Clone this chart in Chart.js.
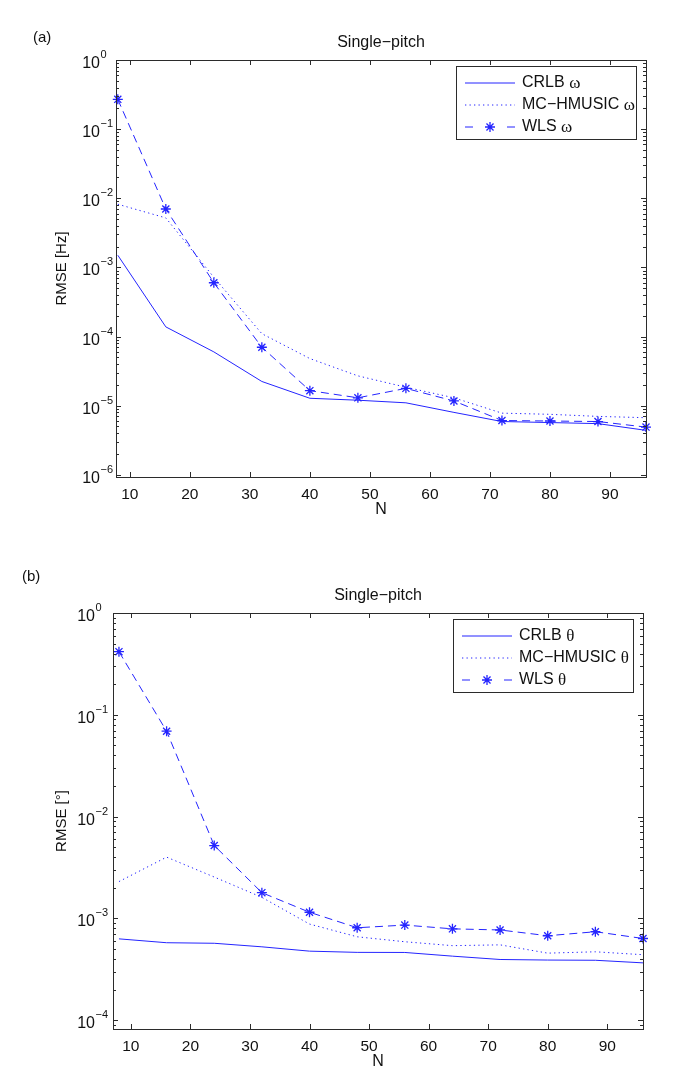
<!DOCTYPE html>
<html><head><meta charset="utf-8">
<script src="https://cdn.jsdelivr.net/npm/chart.js@4.4.1/dist/chart.umd.min.js"></script>
<style>
html,body{margin:0;padding:0;background:#fff;}
#wrap{position:relative;width:685px;height:1089px;}
canvas{position:absolute;left:0;}
</style></head><body>
<div id="wrap">
<canvas id="ca" width="685" height="545" style="top:0"></canvas>
<canvas id="cb" width="685" height="544" style="top:545px"></canvas>
</div>
<script>
// ---------- data ----------
const N = [8,16,24,32,40,48,56,64,72,80,88,96];
const crlbOmega  = [1.5e-3,1.38e-4,6.0e-5,2.24e-5,1.28e-5,1.2e-5,1.1e-5,8.0e-6,5.9e-6,5.7e-6,5.5e-6,4.4e-6];
const musicOmega = [8.2e-3,5.2e-3,7.2e-4,1.1e-4,4.8e-5,2.7e-5,1.85e-5,1.3e-5,7.8e-6,7.5e-6,7.0e-6,6.7e-6];
const wlsOmega   = [0.27,7.0e-3,6.0e-4,7.0e-5,1.65e-5,1.3e-5,1.78e-5,1.17e-5,6.1e-6,6.0e-6,5.9e-6,4.9e-6];
const crlbTheta  = [6.3e-4,5.77e-4,5.7e-4,5.26e-4,4.77e-4,4.64e-4,4.63e-4,4.26e-4,3.95e-4,3.9e-4,3.88e-4,3.66e-4];
const musicTheta = [2.3e-3,4.0e-3,2.55e-3,1.61e-3,8.8e-4,6.6e-4,5.9e-4,5.4e-4,5.5e-4,4.56e-4,4.7e-4,4.4e-4];
const wlsTheta   = [0.417,0.069,5.2e-3,1.79e-3,1.15e-3,8.1e-4,8.6e-4,7.9e-4,7.7e-4,6.76e-4,7.4e-4,6.35e-4];
const xTicks = [10,20,30,40,50,60,70,80,90];
const yDecadesA = [-6,-5,-4,-3,-2,-1,0];
const yDecadesB = [-4,-3,-2,-1,0];
const labelsA = ['CRLB ω','MC−HMUSIC ω','WLS ω'];
const labelsB = ['CRLB θ','MC−HMUSIC θ','WLS θ'];

// ---------- helpers ----------
const BLUE = '#2424ff';
const SANS = '"Liberation Sans", Arial, sans-serif';
const SERIF = '"Liberation Serif", "Times New Roman", serif';
function logTicks(decades, min, max){
  const out=[];
  for (let i=0;i<decades.length;i++){
    const e=decades[i];
    for (let k=1;k<=9;k++){
      const v=k*Math.pow(10,e);
      if (v>=min*0.999999 && v<=max*1.000001) out.push({value:v, major:k===1, exp:e});
    }
  }
  const lo=decades[0]-1;
  for (let k=2;k<=9;k++){ const v=k*Math.pow(10,lo); if (v>=min) out.push({value:v, major:false, exp:lo}); }
  return out;
}

function makeDatasets(labels, c, m, w){
  const pts = a => N.map((n,i)=>({x:n, y:a[i]}));
  return [
    {label:labels[0], data:pts(c), borderColor:BLUE, borderWidth:1, pointRadius:0, showLine:true, fill:false, tension:0},
    {label:labels[1], data:pts(m), borderColor:BLUE, borderWidth:1, borderDash:[1.3,3.2], borderCapStyle:'butt', pointRadius:0, showLine:true, fill:false, tension:0},
    {label:labels[2], data:pts(w), borderColor:BLUE, borderWidth:1, borderDash:[8,5], pointRadius:5, pointStyle:'star',
     pointBorderColor:BLUE, pointBackgroundColor:BLUE, pointBorderWidth:1.3, showLine:true, fill:false, tension:0, clip:false}
  ];
}

const decor = {
  id:'decor',
  afterDatasetsDraw(chart, args, o){
    const {ctx, chartArea:a, scales:{x,y}} = chart;
    ctx.save();
    ctx.strokeStyle='#2b2b2b'; ctx.lineWidth=1; ctx.setLineDash([]);
    ctx.beginPath();
    x.ticks.forEach(t=>{
      const px=Math.round(x.getPixelForValue(t.value))+0.5;
      ctx.moveTo(px,a.bottom); ctx.lineTo(px,a.bottom-5);
      ctx.moveTo(px,a.top); ctx.lineTo(px,a.top+5);
    });
    y.ticks.forEach(t=>{
      const py=Math.round(y.getPixelForValue(t.value))+0.5;
      const L=t.major?5:3;
      ctx.moveTo(a.left,py); ctx.lineTo(a.left+L,py);
      ctx.moveTo(a.right,py); ctx.lineTo(a.right-L,py);
    });
    ctx.stroke();
    ctx.strokeRect(Math.round(a.left)+0.5, Math.round(a.top)+0.5, Math.round(a.right-a.left), Math.round(a.bottom-a.top));

    // y tick labels: 10 with superscript exponent
    ctx.fillStyle='#111';
    y.ticks.forEach(t=>{
      if (!t.major) return;
      const py=y.getPixelForValue(t.value);
      const xr=a.left-o.labGap;
      ctx.textBaseline='alphabetic';
      ctx.font='16px '+SANS; ctx.textAlign='right';
      ctx.fillText('10', xr, py+8);
      ctx.font='11px '+SANS; ctx.textAlign='left';
      ctx.fillText(String(t.exp).replace('-','−'), xr+0.5, py-2);
    });

    // texts
    ctx.font='15px '+SANS; ctx.textAlign='left'; ctx.textBaseline='alphabetic';
    ctx.fillText(o.panel, o.panelX, o.panelY);
    ctx.font='16px '+SANS; ctx.textAlign='center';
    ctx.fillText(o.title, (a.left+a.right)/2, a.top-13);
    ctx.font='16px '+SANS; ctx.textBaseline='middle';
    ctx.fillText('N', (a.left+a.right)/2, a.bottom+33);
    ctx.save();
    ctx.translate(o.ylabelX, (a.top+a.bottom)/2);
    ctx.rotate(-Math.PI/2);
    ctx.font='15px '+SANS;
    ctx.fillText(o.ylabel, 0, 0);
    ctx.restore();

    // legend
    const bw=180, bh=73;
    const bx=Math.round(a.right-10-bw), by=Math.round(a.top+6);
    ctx.fillStyle='#fff';
    ctx.fillRect(bx,by,bw,bh);
    ctx.strokeStyle='#2b2b2b';
    ctx.strokeRect(bx+0.5, by+0.5, bw, bh);
    const rows=[17,39,61];
    chart.data.datasets.forEach((ds,i)=>{
      const ry=by+rows[i];
      const sx0=bx+9, sx1=bx+59;
      ctx.strokeStyle=ds.borderColor; ctx.lineWidth=1;
      if (i===0){
        ctx.setLineDash([]); ctx.beginPath(); ctx.moveTo(sx0,ry); ctx.lineTo(sx1,ry); ctx.stroke();
      } else if (i===1){
        ctx.setLineDash(ds.borderDash); ctx.beginPath(); ctx.moveTo(sx0,ry); ctx.lineTo(sx1,ry); ctx.stroke();
        ctx.setLineDash([]);
      } else {
        ctx.setLineDash([]);
        ctx.beginPath(); ctx.moveTo(sx0,ry); ctx.lineTo(sx0+8,ry); ctx.moveTo(sx1-8,ry); ctx.lineTo(sx1,ry); ctx.stroke();
        ctx.lineWidth=1.3;
        Chart.helpers.drawPoint(ctx, {pointStyle:'star', radius:5, rotation:0, borderWidth:1.3}, (sx0+sx1)/2, ry);
      }
      const lab=ds.label; const sp=lab.lastIndexOf(' ');
      const base=lab.slice(0,sp+1), sym=lab.slice(sp+1);
      ctx.fillStyle='#111'; ctx.textAlign='left'; ctx.textBaseline='middle';
      ctx.font='16px '+SANS;
      const tx=bx+66;
      ctx.fillText(base, tx, ry);
      const w=ctx.measureText(base).width;
      ctx.font='17px '+SERIF;
      ctx.fillText(sym, tx+w, ry+1);
    });
    ctx.restore();
  }
};

function build(id, o){
  const decadesY=o.decades;
  return new Chart(document.getElementById(id), {
    type:'scatter',
    data:{datasets:o.datasets},
    options:{
      responsive:false, animation:false, events:[], devicePixelRatio:1,
      layout:{padding:o.pad},
      plugins:{legend:{display:false}, tooltip:{enabled:false}, title:{display:false}, decor:o.decor},
      scales:{
        x:{type:'linear', min:o.xmin, max:96,
           afterBuildTicks:ax=>{ ax.ticks=xTicks.map(v=>({value:v})); },
           afterFit:ax=>{ ax.height=30; },
           grid:{display:false, drawTicks:false}, border:{display:false},
           ticks:{autoSkip:false, maxRotation:0, padding:8, color:'#111', font:{family:SANS, size:15.5}}},
        y:{type:'logarithmic', min:o.ymin, max:1,
           afterBuildTicks:ax=>{ ax.ticks=logTicks(decadesY, o.ymin, 1); },
           afterFit:ax=>{ ax.width=56; },
           grid:{display:false, drawTicks:false}, border:{display:false},
           ticks:{autoSkip:false, padding:10, font:{family:SANS, size:15}, callback:()=>''}}
      }
    },
    plugins:[decor]
  });
}

build('ca', {
  datasets: makeDatasets(labelsA, crlbOmega, musicOmega, wlsOmega),
  decades: yDecadesA, ymin: 9.3e-7, xmin: 7.7,
  pad: {left:60, right:39, top:60, bottom:38},
  decor: {panel:'(a)', panelX:33, panelY:42, title:'Single−pitch', ylabel:'RMSE [Hz]', ylabelX:62, labGap:16}
});
build('cb', {
  datasets: makeDatasets(labelsB, crlbTheta, musicTheta, wlsTheta),
  decades: yDecadesB, ymin: 8.2e-5, xmin: 7.0,
  pad: {left:57, right:42, top:68, bottom:30},
  decor: {panel:'(b)', panelX:22, panelY:36, title:'Single−pitch', ylabel:'RMSE [°]', ylabelX:62, labGap:18}
});
</script>
</body></html>
